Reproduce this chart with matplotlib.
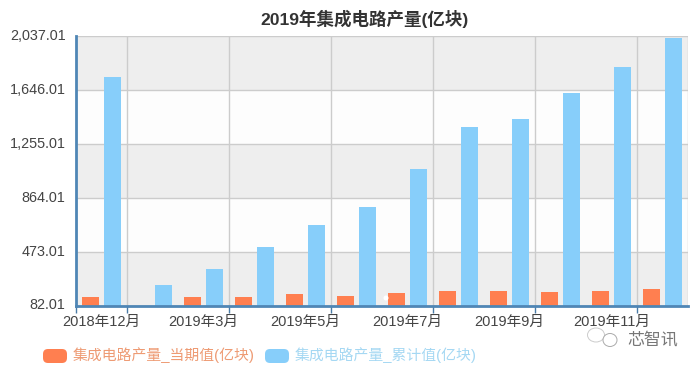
import matplotlib
matplotlib.use('Agg')
import matplotlib.pyplot as plt
from matplotlib.patches import FancyBboxPatch, Ellipse

plt.rcParams['font.family'] = ['Liberation Sans', 'Noto Sans CJK SC', 'DejaVu Sans']

months = ['2018年12月', '2019年2月', '2019年3月', '2019年4月', '2019年5月', '2019年6月',
          '2019年7月', '2019年8月', '2019年9月', '2019年10月', '2019年11月', '2019年12月']
current = [149, None, 145, 147, 171, 154, 176, 188, 190, 186, 192, 207]
cumulative = [1738, 236, 350, 508, 668, 798, 1072, 1376, 1434, 1622, 1810, 2020]
yticks = [82.01, 473.01, 864.01, 1255.01, 1646.01, 2037.01]
title = '2019年集成电路产量(亿块)'
name_current = '集成电路产量_当期值(亿块)'
name_cumulative = '集成电路产量_累计值(亿块)'

W, H = 700, 371
fig = plt.figure(figsize=(7, 3.71), dpi=100)
ax = fig.add_axes([76 / W, 1 - 306 / H, 612 / W, 270 / H])

x = list(range(len(months)))
ax.set_xlim(-0.5, len(months) - 0.5)
ax.set_ylim(yticks[0], yticks[-1])

# alternating bands
for i in range(len(yticks) - 1):
    color = '#eeeeee' if i % 2 == 0 else '#fdfdfd'
    ax.axhspan(yticks[i], yticks[i + 1], color=color, lw=0, zorder=0)

ax.set_yticks(yticks)
ax.set_yticklabels([])
ax.grid(axis='y', color='#cccccc', lw=1.0, zorder=1)
ax.tick_params(axis='y', length=0)

# bottom label sits a little above its gridline
for v in yticks:
    up = 0.8 if v == yticks[0] else 0
    ax.annotate(f'{v:,.2f}', (-0.5, v), xytext=(-7.4, up), textcoords='offset points',
                ha='right', va='center', fontsize=10.4, color='#444444', annotation_clip=False)

# gridlines and ticks sit between categories, every second one
edges = [-0.5, 0.5, 2.5, 4.5, 6.5, 8.5, 10.5]
for e in edges[1:] + [11.5]:
    ax.axvline(e, color='#cccccc', lw=1.0, zorder=1)
ax.set_xticks(edges)
ax.set_xticklabels([])
ax.tick_params(axis='x', length=5, width=1, color='#4a7ba6')

for i in x[::2]:
    ax.annotate(months[i], (i, yticks[0]), xytext=(0, -6.5), textcoords='offset points',
                ha='center', va='top', fontsize=10.5, color='#444444', annotation_clip=False)

offset = 0.216
width = 0.335
cur_x = [i - offset for i, v in zip(x, current) if v is not None]
cur_v = [v for v in current if v is not None]
ax.bar(cur_x, [v - yticks[0] for v in cur_v], width, bottom=yticks[0], color='#ff7f50', zorder=2)
ax.bar([i + offset for i in x], [v - yticks[0] for v in cumulative], width, bottom=yticks[0],
       color='#87cefa', zorder=2)

for s in ['top', 'right']:
    ax.spines[s].set_visible(False)
for s in ['left', 'bottom']:
    ax.spines[s].set_color('#4f86b5')
    ax.spines[s].set_linewidth(2)
    ax.spines[s].set_zorder(3)

fig.text(364.5 / W, 1 - 19 / H, title, ha='center', va='center', fontsize=12.6,
         fontweight='bold', color='#333333')

# legend
for x0, col, txt, tcol in [(43, '#ff7f50', name_current, '#ee9b74'),
                           (265, '#87cefa', name_cumulative, '#a5d8f3')]:
    fig.patches.append(FancyBboxPatch((x0, H - 363), 24, 14, boxstyle='round,pad=0,rounding_size=5',
                                      mutation_aspect=1, fc=col, ec='none',
                                      transform=None, figure=fig))
    fig.text((x0 + 30) / W, 1 - 355 / H, txt, ha='left', va='center', fontsize=10.7, color=tcol)

# speck on the picture
fig.add_artist(Ellipse((386, H - 298), 5, 5, fc='white', ec='none', transform=None, zorder=5))

# watermark
fig.patches.append(Ellipse((596, H - 335), 17, 14, fc='none', ec='#cccccc', lw=0.7, transform=None, figure=fig))
fig.patches.append(Ellipse((610, H - 340), 14, 13, fc='white', ec='#aaaaaa', lw=0.7, transform=None, figure=fig))
fig.text(627 / W, 1 - 340 / H, '芯智讯', ha='left', va='center', fontsize=12.2, color='#777777')

fig.savefig('out.png', dpi=100)
